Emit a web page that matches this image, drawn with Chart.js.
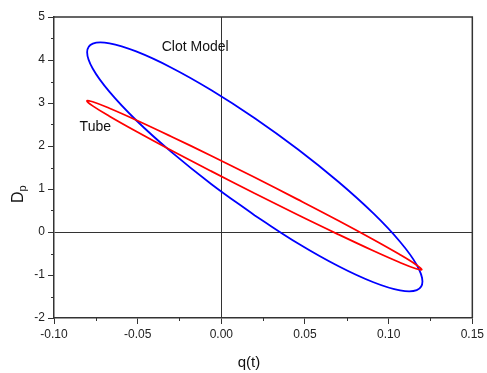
<!DOCTYPE html>
<html>
<head>
<meta charset="utf-8">
<script src="https://cdn.jsdelivr.net/npm/chart.js@4/dist/chart.umd.min.js"></script>
<style>
  body { margin: 0; background: #fff; }
</style>
</head>
<body>
<canvas id="chart" width="487" height="373"></canvas>
<script>
// Clot Model loop (blue), closed back to the first point
const clotX = [0.0200, -0.0059, -0.0301, -0.0509, -0.0668, -0.0768, -0.0802, -0.0768, -0.0668, -0.0509, -0.0301, -0.0059,
               0.0200, 0.0459, 0.0701, 0.0909, 0.1068, 0.1168, 0.1202, 0.1168, 0.1068, 0.0909, 0.0701, 0.0459, 0.0200];
const clotY = [0.384, 1.112, 1.868, 2.599, 3.257, 3.796, 4.180, 4.382, 4.388, 4.199, 3.827, 3.297,
               2.646, 1.918, 1.162, 0.431, -0.227, -0.766, -1.150, -1.352, -1.358, -1.169, -0.797, -0.267, 0.384];

// Tube loop (red)
const tubeX = [0.0198, -0.0061, -0.0303, -0.0510, -0.0669, -0.0769, -0.0803, -0.0769, -0.0669, -0.0510, -0.0303, -0.0061,
               0.0198, 0.0456, 0.0698, 0.0905, 0.1064, 0.1164, 0.1198, 0.1164, 0.1064, 0.0905, 0.0698, 0.0456, 0.0198];
const tubeY = [0.902, 1.416, 1.907, 2.343, 2.693, 2.933, 3.048, 3.029, 2.878, 2.605, 2.228, 1.774,
               1.272, 0.758, 0.267, -0.169, -0.519, -0.760, -0.874, -0.855, -0.704, -0.431, -0.054, 0.400, 0.902];

const xTickLabels = ['-0.10', '-0.05', '0.00', '0.05', '0.10', '0.15'];
const yTickLabels = ['-2', '-1', '0', '1', '2', '3', '4', '5'];

const toPoints = (xs, ys) => xs.map((x, i) => ({ x: x, y: ys[i] }));

Chart.defaults.font.family = '"Liberation Sans", Arial, sans-serif';
Chart.defaults.color = '#222';

// frame, minor ticks, titles and curve labels
const extras = {
  id: 'extras',
  afterDraw(chart) {
    const { ctx, chartArea: a, scales } = chart;
    const xs = scales.x, ys = scales.y;
    ctx.save();
    ctx.strokeStyle = '#333';
    ctx.lineWidth = 1.5;
    ctx.beginPath();
    ctx.moveTo(a.left, a.top); ctx.lineTo(a.right, a.top); ctx.lineTo(a.right, a.bottom);
    ctx.stroke();

    // minor ticks
    ctx.lineWidth = 1;
    ctx.beginPath();
    xs.ticks.forEach((t, i) => {
      if (i % 2 === 1) {
        const px = Math.round(xs.getPixelForValue(t.value)) + 0.5;
        ctx.moveTo(px, a.bottom); ctx.lineTo(px, a.bottom + 3);
      }
    });
    ys.ticks.forEach((t, i) => {
      if (i % 2 === 1) {
        const py = Math.round(ys.getPixelForValue(t.value)) + 0.5;
        ctx.moveTo(a.left, py); ctx.lineTo(a.left - 3, py);
      }
    });
    ctx.stroke();

    // curve labels
    ctx.fillStyle = '#111';
    ctx.font = '14px "Liberation Sans", Arial, sans-serif';
    ctx.textBaseline = 'middle';
    ctx.textAlign = 'left';
    ctx.fillText('Clot Model', xs.getPixelForValue(-0.0356), ys.getPixelForValue(4.29));
    ctx.fillText('Tube', xs.getPixelForValue(-0.0847), ys.getPixelForValue(2.45));

    // x title
    ctx.font = '15px "Liberation Sans", Arial, sans-serif';
    ctx.textAlign = 'center';
    ctx.textBaseline = 'alphabetic';
    ctx.fillText('q(t)', 249, 367);

    // y title  D with subscript p
    ctx.translate(23, 203);
    ctx.rotate(-Math.PI / 2);
    ctx.textAlign = 'left';
    ctx.font = '16px "Liberation Sans", Arial, sans-serif';
    ctx.fillText('D', 0, 0);
    const w = ctx.measureText('D').width;
    ctx.font = '11px "Liberation Sans", Arial, sans-serif';
    ctx.fillText('p', w, 3);
    ctx.restore();
  }
};

const isZero = (v) => Math.abs(v) < 1e-9;

new Chart(document.getElementById('chart'), {
  type: 'scatter',
  data: {
    datasets: [
      {
        label: 'Tube',
        data: toPoints(tubeX, tubeY),
        showLine: true,
        borderColor: '#ff0000',
        borderWidth: 1.8,
        pointRadius: 0,
        tension: 0.4,
        fill: false
      },
      {
        label: 'Clot Model',
        data: toPoints(clotX, clotY),
        showLine: true,
        borderColor: '#0000ff',
        borderWidth: 1.8,
        pointRadius: 0,
        tension: 0.4,
        fill: false
      }
    ]
  },
  options: {
    responsive: false,
    animation: false,
    layout: { padding: { top: 17, right: 14, left: 0, bottom: 0 } },
    plugins: {
      legend: { display: false },
      tooltip: { enabled: false }
    },
    scales: {
      x: {
        type: 'linear',
        min: -0.1,
        max: 0.15,
        afterFit(scale) { scale.height = 55; },
        border: { display: true, color: '#333', width: 1.5 },
        grid: {
          color: (c) => (c.tick && isZero(c.tick.value)) ? '#333' : 'rgba(0,0,0,0)',
          lineWidth: 1,
          tickColor: (c) => (c.index % 2 === 0) ? '#333' : 'rgba(0,0,0,0)',
          tickLength: 6,
          drawTicks: true
        },
        ticks: {
          stepSize: 0.025,
          padding: 3,
          autoSkip: false,
          maxRotation: 0,
          font: { size: 12 },
          color: '#222',
          callback: (v, i) => (i % 2 === 0) ? xTickLabels[i / 2] : ''
        }
      },
      y: {
        type: 'linear',
        min: -2,
        max: 5,
        afterFit(scale) { scale.width = 54; },
        border: { display: true, color: '#333', width: 1.5 },
        grid: {
          color: (c) => (c.tick && isZero(c.tick.value)) ? '#333' : 'rgba(0,0,0,0)',
          lineWidth: 1,
          tickColor: (c) => (c.index % 2 === 0) ? '#333' : 'rgba(0,0,0,0)',
          tickLength: 6,
          drawTicks: true
        },
        ticks: {
          stepSize: 0.5,
          padding: 3,
          autoSkip: false,
          font: { size: 12 },
          color: '#222',
          callback: (v, i) => (i % 2 === 0) ? yTickLabels[i / 2] : ''
        }
      }
    }
  },
  plugins: [extras]
});
</script>
</body>
</html>
